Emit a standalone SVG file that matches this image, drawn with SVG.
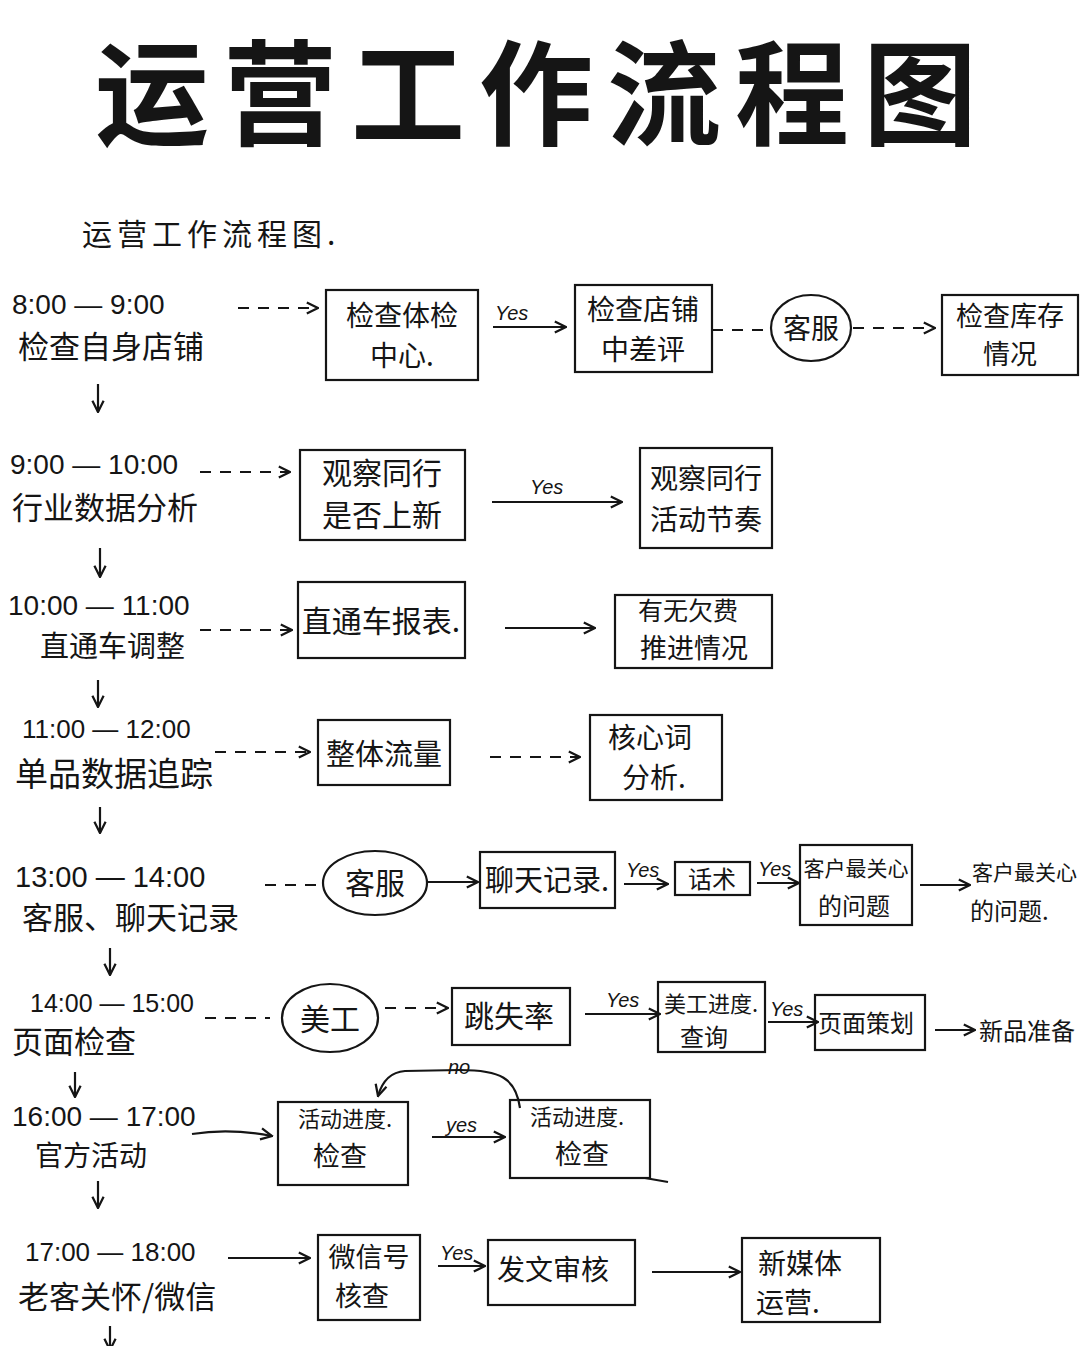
<svg xmlns="http://www.w3.org/2000/svg" width="1080" height="1346" viewBox="0 0 1080 1346">
<style>
text{font-family:"Noto Sans CJK SC","Noto Sans",sans-serif;fill:#151515}
.num{font-family:"Liberation Sans","DejaVu Sans",sans-serif;font-size:28px}
.lab{font-size:31px}
.b{fill:none;stroke:#151515;stroke-width:2.2}
.c{fill:none;stroke:#151515;stroke-width:2.2}
.d{stroke-dasharray:11 9}
.m{text-anchor:middle}
.yes{font-family:"Liberation Sans",sans-serif;font-size:20px;font-style:italic}
</style>
<defs>
<marker id="ah" viewBox="0 0 10 10" refX="9" refY="5" markerWidth="14" markerHeight="14" markerUnits="userSpaceOnUse" orient="auto">
<path d="M1,1 L9,5 L1,9" fill="none" stroke="#151515" stroke-width="1.6"/>
</marker>
</defs>
<rect width="1080" height="1346" fill="#ffffff"/>
<g id="title">
<text x="543" y="136" class="m" style="font-size:114px;font-weight:700;letter-spacing:14px">运营工作流程图</text>
<text x="82" y="245" style="font-size:30px;letter-spacing:5px">运营工作流程图.</text>
</g>

<g id="connectors">
<!-- down arrows -->
<line class="c" x1="98" y1="384" x2="98" y2="412" marker-end="url(#ah)"/>
<line class="c" x1="100" y1="548" x2="100" y2="577" marker-end="url(#ah)"/>
<line class="c" x1="98" y1="680" x2="98" y2="707" marker-end="url(#ah)"/>
<line class="c" x1="100" y1="807" x2="100" y2="833" marker-end="url(#ah)"/>
<line class="c" x1="110" y1="948" x2="110" y2="975" marker-end="url(#ah)"/>
<line class="c" x1="75" y1="1072" x2="75" y2="1097" marker-end="url(#ah)"/>
<line class="c" x1="98" y1="1181" x2="98" y2="1208" marker-end="url(#ah)"/>
<line class="c" x1="110" y1="1326" x2="110" y2="1350" marker-end="url(#ah)"/>
<!-- row 1 -->
<line class="c d" x1="238" y1="308" x2="318" y2="308" marker-end="url(#ah)"/>
<line class="c" x1="493" y1="327" x2="566" y2="327" marker-end="url(#ah)"/>
<line class="c d" x1="712" y1="330" x2="771" y2="330"/>
<line class="c d" x1="853" y1="328" x2="935" y2="328" marker-end="url(#ah)"/>
<!-- row 2 -->
<line class="c d" x1="200" y1="472" x2="290" y2="472" marker-end="url(#ah)"/>
<line class="c" x1="492" y1="502" x2="622" y2="502" marker-end="url(#ah)"/>
<!-- row 3 -->
<line class="c d" x1="200" y1="630" x2="292" y2="630" marker-end="url(#ah)"/>
<line class="c" x1="505" y1="628" x2="595" y2="628" marker-end="url(#ah)"/>
<!-- row 4 -->
<line class="c d" x1="215" y1="752" x2="310" y2="752" marker-end="url(#ah)"/>
<line class="c d" x1="490" y1="757" x2="580" y2="757" marker-end="url(#ah)"/>
<!-- row 5 -->
<line class="c d" x1="265" y1="885" x2="325" y2="885"/>
<line class="c" x1="428" y1="882" x2="478" y2="882" marker-end="url(#ah)"/>
<line class="c" x1="624" y1="884" x2="668" y2="884" marker-end="url(#ah)"/>
<line class="c" x1="757" y1="883" x2="799" y2="883" marker-end="url(#ah)"/>
<line class="c" x1="920" y1="885" x2="970" y2="885" marker-end="url(#ah)"/>
<!-- row 6 -->
<line class="c d" x1="205" y1="1018" x2="270" y2="1018"/>
<line class="c d" x1="385" y1="1008" x2="448" y2="1008" marker-end="url(#ah)"/>
<line class="c" x1="585" y1="1014" x2="660" y2="1014" marker-end="url(#ah)"/>
<line class="c" x1="768" y1="1022" x2="818" y2="1022" marker-end="url(#ah)"/>
<line class="c" x1="935" y1="1030" x2="975" y2="1030" marker-end="url(#ah)"/>
<!-- row 7 -->
<path class="c" d="M192,1134 Q230,1128 272,1136" marker-end="url(#ah)"/>
<line class="c" x1="432" y1="1137" x2="505" y2="1137" marker-end="url(#ah)"/>
<path class="c" d="M520,1108 C516,1078 500,1070 460,1070 L405,1071 C390,1072 382,1082 378,1096" marker-end="url(#ah)"/>
<path class="c" d="M645,1178 L668,1182"/>
<!-- row 8 -->
<line class="c" x1="228" y1="1258" x2="310" y2="1258" marker-end="url(#ah)"/>
<line class="c" x1="438" y1="1266" x2="485" y2="1266" marker-end="url(#ah)"/>
<line class="c" x1="652" y1="1272" x2="740" y2="1272" marker-end="url(#ah)"/>
<!-- labels -->
<text x="495" y="320" class="yes">Yes</text>
<text x="530" y="494" class="yes">Yes</text>
<text x="626" y="877" class="yes">Yes</text>
<text x="758" y="876" class="yes">Yes</text>
<text x="606" y="1007" class="yes">Yes</text>
<text x="770" y="1016" class="yes">Yes</text>
<text x="446" y="1132" class="yes">yes</text>
<text x="448" y="1074" class="yes">no</text>
<text x="440" y="1260" class="yes">Yes</text>
</g>

<g id="row1">
<text x="12" y="314" class="num">8:00 — 9:00</text>
<text x="18" y="358" class="lab">检查自身店铺</text>
</g>
<g id="n1a"><rect class="b" x="326" y="290" width="152" height="90"/>
<text x="402" y="326" class="m" style="font-size:28px">检查体检</text>
<text x="402" y="366" class="m" style="font-size:28px">中心.</text></g>
<g id="n1b"><rect class="b" x="575" y="285" width="137" height="87"/>
<text x="643" y="320" class="m" style="font-size:28px">检查店铺</text>
<text x="643" y="360" class="m" style="font-size:28px">中差评</text></g>
<g id="n1c"><ellipse class="b" cx="811" cy="328" rx="40" ry="33"/>
<text x="811" y="339" class="m" style="font-size:28px">客服</text></g>
<g id="n1d"><rect class="b" x="942" y="295" width="136" height="80"/>
<text x="1010" y="326" class="m" style="font-size:27px">检查库存</text>
<text x="1010" y="364" class="m" style="font-size:27px">情况</text></g>

<g id="row2">
<text x="10" y="474" class="num">9:00 — 10:00</text>
<text x="12" y="519" class="lab">行业数据分析</text>
</g>
<g id="n2a"><rect class="b" x="300" y="450" width="165" height="90"/>
<text x="382" y="484" class="m" style="font-size:30px">观察同行</text>
<text x="382" y="526" class="m" style="font-size:30px">是否上新</text></g>
<g id="n2b"><rect class="b" x="640" y="448" width="132" height="100"/>
<text x="706" y="489" class="m" style="font-size:28px">观察同行</text>
<text x="706" y="530" class="m" style="font-size:28px">活动节奏</text></g>

<g id="row3">
<text x="8" y="615" class="num">10:00 — 11:00</text>
<text x="40" y="657" class="lab" style="font-size:29px">直通车调整</text>
</g>
<g id="n3a"><rect class="b" x="298" y="582" width="167" height="76"/>
<text x="381" y="632" class="m" style="font-size:30px">直通车报表.</text></g>
<g id="n3b"><rect class="b" x="615" y="595" width="157" height="73"/>
<text x="688" y="620" class="m" style="font-size:25px">有无欠费</text>
<text x="694" y="658" class="m" style="font-size:27px">推进情况</text></g>

<g id="row4">
<text x="22" y="738" class="num" style="font-size:26px">11:00 — 12:00</text>
<text x="15" y="786" class="lab" style="font-size:33px">单品数据追踪</text>
</g>
<g id="n4a"><rect class="b" x="318" y="720" width="132" height="65"/>
<text x="384" y="765" class="m" style="font-size:29px">整体流量</text></g>
<g id="n4b"><rect class="b" x="590" y="715" width="132" height="85"/>
<text x="650" y="748" class="m" style="font-size:28px">核心词</text>
<text x="654" y="788" class="m" style="font-size:28px">分析.</text></g>

<g id="row5">
<text x="15" y="887" class="num" style="font-size:29px">13:00 — 14:00</text>
<text x="22" y="929" class="lab">客服、聊天记录</text>
</g>
<g id="n5a"><ellipse class="b" cx="375" cy="883" rx="52" ry="32"/>
<text x="375" y="894" class="m" style="font-size:30px">客服</text></g>
<g id="n5b"><rect class="b" x="480" y="852" width="135" height="56"/>
<text x="547" y="891" class="m" style="font-size:29px">聊天记录.</text></g>
<g id="n5c"><rect class="b" x="675" y="862" width="75" height="33"/>
<text x="712" y="888" class="m" style="font-size:24px">话术</text></g>
<g id="n5d"><rect class="b" x="800" y="845" width="112" height="80"/>
<text x="856" y="876" class="m" style="font-size:21px">客户最关心</text>
<text x="854" y="915" class="m" style="font-size:24px">的问题</text></g>
<g id="n5e">
<text x="972" y="880" style="font-size:21px">客户最关心</text>
<text x="970" y="920" style="font-size:24px">的问题.</text></g>

<g id="row6">
<text x="30" y="1012" class="num" style="font-size:25px">14:00 — 15:00</text>
<text x="12" y="1053" class="lab">页面检查</text>
</g>
<g id="n6a"><ellipse class="b" cx="330" cy="1018" rx="48" ry="34"/>
<text x="330" y="1030" class="m" style="font-size:30px">美工</text></g>
<g id="n6b"><rect class="b" x="452" y="988" width="118" height="57"/>
<text x="509" y="1027" class="m" style="font-size:30px">跳失率</text></g>
<g id="n6c"><rect class="b" x="658" y="982" width="107" height="70"/>
<text x="711" y="1012" class="m" style="font-size:22px">美工进度.</text>
<text x="704" y="1046" class="m" style="font-size:24px">查询</text></g>
<g id="n6d"><rect class="b" x="815" y="995" width="110" height="55"/>
<text x="866" y="1032" class="m" style="font-size:24px">页面策划</text></g>
<g id="n6e"><text x="979" y="1040" style="font-size:24px">新品准备</text></g>

<g id="row7">
<text x="12" y="1126" class="num">16:00 — 17:00</text>
<text x="35" y="1166" class="lab" style="font-size:28px">官方活动</text>
</g>
<g id="n7a"><rect class="b" x="278" y="1102" width="130" height="83"/>
<text x="345" y="1127" class="m" style="font-size:22px">活动进度.</text>
<text x="340" y="1166" class="m" style="font-size:27px">检查</text></g>
<g id="n7b"><rect class="b" x="510" y="1100" width="140" height="78"/>
<text x="577" y="1125" class="m" style="font-size:22px">活动进度.</text>
<text x="582" y="1164" class="m" style="font-size:27px">检查</text></g>

<g id="row8">
<text x="25" y="1261" class="num" style="font-size:26px">17:00 — 18:00</text>
<text x="18" y="1308" class="lab">老客关怀/微信</text>
</g>
<g id="n8a"><rect class="b" x="318" y="1235" width="102" height="85"/>
<text x="369" y="1267" class="m" style="font-size:27px">微信号</text>
<text x="362" y="1306" class="m" style="font-size:27px">核查</text></g>
<g id="n8b"><rect class="b" x="488" y="1240" width="147" height="65"/>
<text x="553" y="1280" class="m" style="font-size:28px">发文审核</text></g>
<g id="n8c"><rect class="b" x="742" y="1238" width="138" height="84"/>
<text x="800" y="1274" class="m" style="font-size:28px">新媒体</text>
<text x="788" y="1313" class="m" style="font-size:28px">运营.</text></g>
</svg>
